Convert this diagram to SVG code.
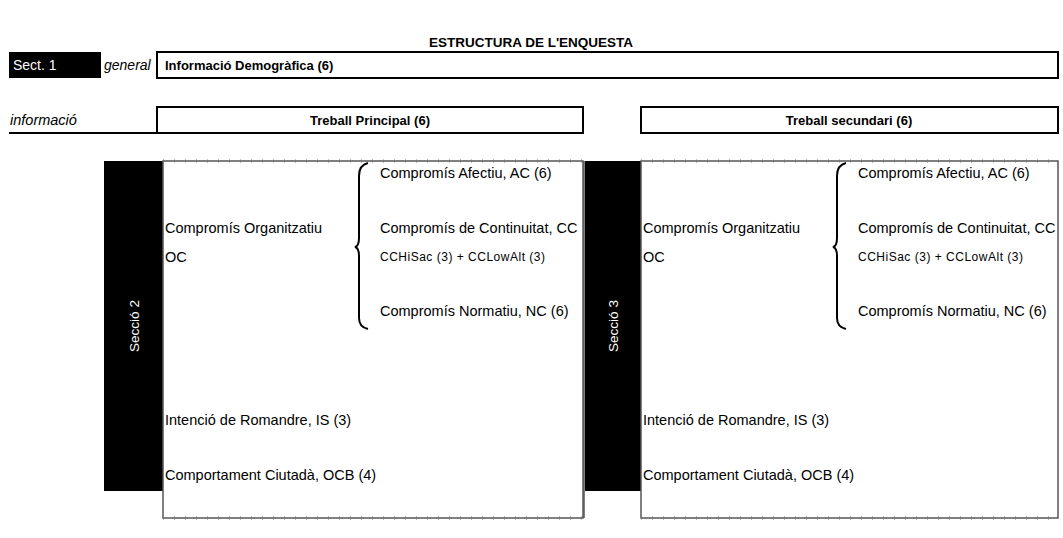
<svg xmlns="http://www.w3.org/2000/svg" width="1063" height="538" viewBox="0 0 1063 538">
<style>
text{font-family:"Liberation Sans",Arial,sans-serif;fill:#000}
.b{font-weight:bold;font-size:13px}
.t{font-size:14.5px}
.s{font-size:12px}
.i{font-style:italic;font-size:14px}
.w{fill:#fff;font-size:13.5px}
.hdr{fill:#fff;stroke:#000;stroke-width:2}
.cell{fill:#fff;stroke:#555;stroke-width:1.5}
.tick{fill:none;stroke:#777;stroke-width:3;stroke-dasharray:1 10}
.brace{fill:none;stroke:#000;stroke-width:2}
</style>
<rect width="1063" height="538" fill="#fff"/>
<g id="title"><text class="b" x="531" y="47" text-anchor="middle" style="font-size:13.5px">ESTRUCTURA DE L'ENQUESTA</text></g>
<g id="sect1">
<rect x="9" y="52" width="92" height="26" fill="#000"/>
<text class="w" x="13" y="70" style="font-size:14px">Sect. 1</text>
<text class="i" x="104" y="70">general</text>
</g>
<g id="demografica">
<rect class="hdr" x="157" y="52" width="901" height="26"/>
<text class="b" x="165" y="70">Informació Demogràfica (6)</text>
</g>
<g id="informacio">
<text class="i" x="10" y="125" style="font-size:14.5px">informació</text>
<line x1="9" y1="133" x2="157" y2="133" stroke="#000" stroke-width="2"/>
</g>
<g id="treball-principal">
<rect class="hdr" x="157" y="107" width="426" height="26"/>
<text class="b" x="370" y="125" text-anchor="middle">Treball Principal (6)</text>
</g>
<g id="treball-secundari">
<rect class="hdr" x="641" y="107" width="417" height="26"/>
<text class="b" x="849" y="125" text-anchor="middle">Treball secundari (6)</text>
</g>
<g id="seccio2">
<rect x="104" y="161" width="59" height="330" fill="#000"/>
<text class="w" transform="translate(139,326) rotate(-90)" text-anchor="middle">Secció 2</text>
<rect class="cell" x="163" y="161" width="420" height="357"/>
<line class="tick" x1="163" y1="161" x2="583" y2="161"/>
<line class="tick" x1="163" y1="518" x2="583" y2="518"/>
<text class="t" x="380" y="178">Compromís Afectiu, AC (6)</text>
<text class="t" x="165" y="233">Compromís Organitzatiu</text>
<text class="t" x="165" y="262">OC</text>
<text class="t" x="380" y="233">Compromís de Continuitat, CC</text>
<text class="s" x="380" y="261" textLength="165" lengthAdjust="spacing">CCHiSac (3) + CCLowAlt (3)</text>
<text class="t" x="380" y="316">Compromís Normatiu, NC (6)</text>
<path class="brace" d="M368,163 Q359,165 359,176 L359,238 Q359,246 355,247 Q359,248 359,256 L359,318 Q359,327 368,329"/>
<text class="t" x="165" y="425">Intenció de Romandre, IS (3)</text>
<text class="t" x="165" y="480">Comportament Ciutadà, OCB (4)</text>
</g>
<g id="seccio3">
<line x1="584" y1="161" x2="584" y2="518" stroke="#555" stroke-width="1.5"/>
<rect x="585" y="161" width="56" height="330" fill="#000"/>
<text class="w" transform="translate(618,326) rotate(-90)" text-anchor="middle">Secció 3</text>
<rect class="cell" x="641" y="161" width="417" height="357"/>
<line class="tick" x1="641" y1="161" x2="1058" y2="161"/>
<line class="tick" x1="641" y1="518" x2="1058" y2="518"/>
<text class="t" x="858" y="178">Compromís Afectiu, AC (6)</text>
<text class="t" x="643" y="233">Compromís Organitzatiu</text>
<text class="t" x="643" y="262">OC</text>
<text class="t" x="858" y="233">Compromís de Continuitat, CC</text>
<text class="s" x="858" y="261" textLength="165" lengthAdjust="spacing">CCHiSac (3) + CCLowAlt (3)</text>
<text class="t" x="858" y="316">Compromís Normatiu, NC (6)</text>
<path class="brace" d="M846,163 Q837,165 837,176 L837,238 Q837,246 833,247 Q837,248 837,256 L837,318 Q837,327 846,329"/>
<text class="t" x="643" y="425">Intenció de Romandre, IS (3)</text>
<text class="t" x="643" y="480">Comportament Ciutadà, OCB (4)</text>
</g>
<g id="connectors"/>
</svg>
